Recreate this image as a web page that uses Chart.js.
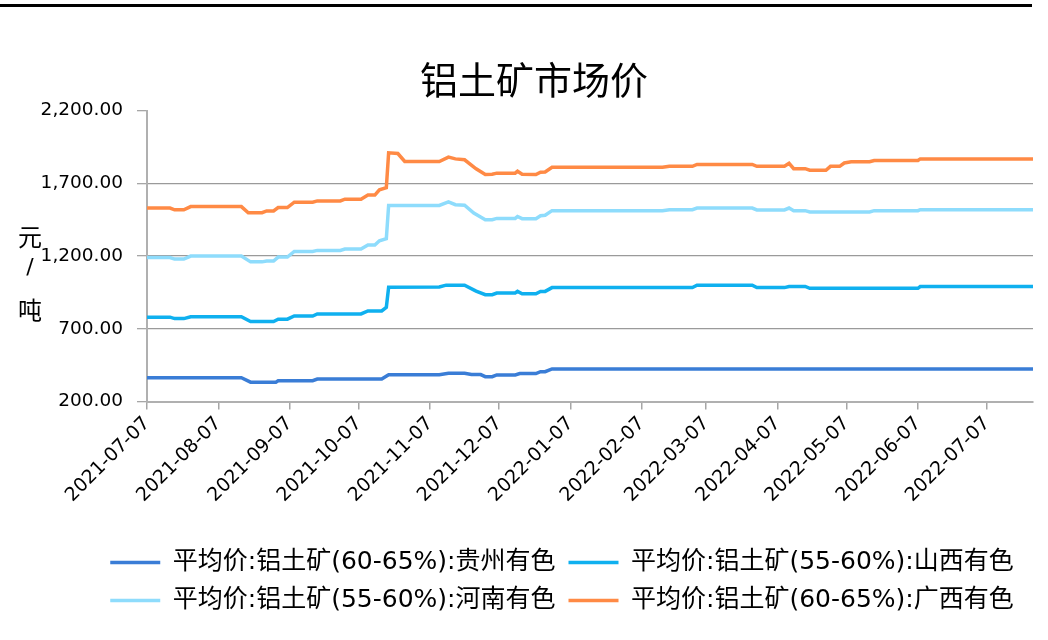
<!DOCTYPE html>
<html><head><meta charset="utf-8">
<script src="https://cdn.jsdelivr.net/npm/chart.js@4.4.1/dist/chart.umd.min.js"></script>
<style>html,body{margin:0;padding:0;background:#fff;}#wrap{width:1048px;height:640px;}</style>
</head><body><div id="wrap"><canvas id="c" width="1048" height="640"></canvas></div>
<script>
const chartTitle = '铝土矿市场价';
const yAxisTitle = ['元', '/', '吨'];
const startDate = '2021-07-07';
const endDate = '2022-07-27';
const tickDates = ['2021-07-07','2021-08-07','2021-09-07','2021-10-07','2021-11-07','2021-12-07','2022-01-07','2022-02-07','2022-03-07','2022-04-07','2022-05-07','2022-06-07','2022-07-07'];
const tickLabels = ['2021-07-07','2021-08-07','2021-09-07','2021-10-07','2021-11-07','2021-12-07','2022-01-07','2022-02-07','2022-03-07','2022-04-07','2022-05-07','2022-06-07','2022-07-07'];
const yMin = 200, yMax = 2200, yStep = 500;

const seriesNames = ['平均价:铝土矿(60-65%):贵州有色','平均价:铝土矿(55-60%):山西有色','平均价:铝土矿(55-60%):河南有色','平均价:铝土矿(60-65%):广西有色'];
const seriesColors = ['#3a7dd6','#0fb0ef','#8edcfc','#ff8a45'];

const gzDates = ['2021-07-07','2021-08-17','2021-08-21','2021-09-01','2021-09-02','2021-09-17','2021-09-19','2021-10-17','2021-10-20','2021-11-11','2021-11-15','2021-11-22','2021-11-25','2021-11-29','2021-12-01','2021-12-04','2021-12-06','2021-12-14','2021-12-16','2021-12-23','2021-12-25','2021-12-27','2021-12-30','2022-07-27'];
const gzValues = [363,363,333,333,343,343,354,354,384,384,394,394,385,385,371,371,383,383,392,392,405,405,424,424];

const sxDates = ['2021-07-07','2021-07-17','2021-07-19','2021-07-23','2021-07-26','2021-08-17','2021-08-21','2021-08-31','2021-09-02','2021-09-06','2021-09-09','2021-09-17','2021-09-19','2021-10-08','2021-10-11','2021-10-17','2021-10-19','2021-10-20','2021-11-11','2021-11-14','2021-11-22','2021-11-27','2021-12-01','2021-12-04','2021-12-06','2021-12-14','2021-12-15','2021-12-17','2021-12-23','2021-12-25','2021-12-27','2021-12-30','2022-03-01','2022-03-03','2022-03-27','2022-03-29','2022-04-10','2022-04-12','2022-04-19','2022-04-21','2022-06-07','2022-06-08','2022-07-27'];
const sxValues = [780,780,770,770,783,783,750,750,766,766,788,788,802,802,823,823,848,986,987,1000,1000,959,934,934,946,946,957,941,941,957,957,983,983,999,999,983,983,991,991,978,978,990,990];

const hnDates = ['2021-07-07','2021-07-17','2021-07-19','2021-07-23','2021-07-26','2021-08-17','2021-08-21','2021-08-26','2021-08-28','2021-08-31','2021-09-02','2021-09-06','2021-09-09','2021-09-17','2021-09-19','2021-09-29','2021-10-01','2021-10-08','2021-10-11','2021-10-14','2021-10-16','2021-10-19','2021-10-20','2021-11-11','2021-11-15','2021-11-18','2021-11-22','2021-11-26','2021-12-01','2021-12-04','2021-12-06','2021-12-14','2021-12-15','2021-12-17','2021-12-23','2021-12-25','2021-12-27','2021-12-30','2022-02-16','2022-02-19','2022-03-01','2022-03-03','2022-03-27','2022-03-29','2022-04-10','2022-04-12','2022-04-14','2022-04-19','2022-04-21','2022-05-17','2022-05-19','2022-06-07','2022-06-08','2022-07-27'];
const hnValues = [1190,1190,1179,1179,1200,1200,1160,1160,1166,1166,1193,1193,1232,1232,1239,1239,1248,1248,1276,1276,1305,1320,1548,1548,1572,1553,1550,1496,1450,1450,1459,1459,1472,1457,1457,1477,1480,1512,1512,1519,1519,1530,1530,1517,1517,1530,1512,1512,1503,1503,1512,1512,1519,1519];

const gxDates = ['2021-07-07','2021-07-17','2021-07-19','2021-07-23','2021-07-26','2021-08-17','2021-08-20','2021-08-26','2021-08-28','2021-08-31','2021-09-02','2021-09-06','2021-09-09','2021-09-17','2021-09-19','2021-09-29','2021-10-01','2021-10-08','2021-10-11','2021-10-14','2021-10-16','2021-10-19','2021-10-20','2021-10-24','2021-10-27','2021-11-11','2021-11-15','2021-11-18','2021-11-22','2021-11-27','2021-12-01','2021-12-04','2021-12-06','2021-12-14','2021-12-15','2021-12-17','2021-12-23','2021-12-25','2021-12-27','2021-12-30','2022-02-16','2022-02-19','2022-03-01','2022-03-03','2022-03-27','2022-03-29','2022-04-10','2022-04-12','2022-04-14','2022-04-19','2022-04-21','2022-04-28','2022-04-30','2022-05-04','2022-05-06','2022-05-09','2022-05-17','2022-05-19','2022-06-07','2022-06-08','2022-07-27'];
const gxValues = [1530,1530,1518,1518,1540,1540,1498,1498,1510,1510,1533,1533,1570,1570,1579,1579,1591,1591,1619,1619,1655,1670,1910,1905,1850,1850,1880,1868,1862,1800,1760,1762,1770,1770,1783,1762,1760,1776,1778,1810,1810,1817,1817,1830,1830,1817,1817,1838,1801,1801,1790,1790,1817,1817,1840,1848,1848,1857,1857,1868,1868];

const DAY = 86400000;
const dayOf = d => Math.round((Date.parse(d + 'T00:00:00Z') - Date.parse(startDate + 'T00:00:00Z')) / DAY);
const toPoints = (dates, values) => dates.map((d, i) => ({x: dayOf(d), y: values[i]}));

const seriesDates = [gzDates, sxDates, hnDates, gxDates];
const seriesValues = [gzValues, sxValues, hnValues, gxValues];

const latin = "'DejaVu Sans', 'Noto Sans CJK SC', sans-serif";

const topRule = {
  id: 'topRule',
  beforeDraw(chart) {
    const ctx = chart.ctx;
    ctx.save();
    ctx.fillStyle = '#000';
    ctx.fillRect(0, 4, 1032, 3);
    ctx.restore();
  }
};
const yTitle = {
  id: 'yTitle',
  afterDraw(chart) {
    const ctx = chart.ctx;
    const ys = [237, 268, 310];
    ctx.save();
    ctx.fillStyle = '#000';
    ctx.textAlign = 'center';
    ctx.textBaseline = 'middle';
    yAxisTitle.forEach((ch, i) => {
      ctx.font = (ch === '/' ? '22px ' + latin : "24px 'Noto Sans CJK SC'");
      ctx.fillText(ch, 30, ys[i]);
    });
    ctx.restore();
  }
};
const legendShift = {
  id: 'legendShift',
  afterLayout(chart) {
    chart.legend.left += 28;
    chart.legend.right += 28;
  }
};

new Chart(document.getElementById('c'), {
  type: 'line',
  data: {
    datasets: seriesNames.map((name, i) => ({
      label: name,
      data: toPoints(seriesDates[i], seriesValues[i]),
      borderColor: seriesColors[i],
      backgroundColor: seriesColors[i],
      borderWidth: 3.5,
      pointRadius: 0,
      tension: 0,
      fill: false
    }))
  },
  options: {
    responsive: false,
    animation: false,
    devicePixelRatio: 1,
    layout: {padding: {top: 57, left: 35, right: 15, bottom: 17}},
    plugins: {
      title: {
        display: true,
        text: chartTitle,
        color: '#000',
        font: {family: "'Noto Sans CJK SC'", size: 38, weight: 'normal'},
        padding: {top: 0, bottom: 8}
      },
      legend: {
        position: 'bottom',
        labels: {
          color: '#000',
          font: {family: latin, size: 25},
          usePointStyle: true,
          pointStyle: 'line',
          pointStyleWidth: 50,
          padding: 13
        }
      },
      tooltip: {enabled: false}
    },
    scales: {
      x: {
        type: 'linear',
        min: dayOf(startDate),
        max: dayOf(endDate),
        afterBuildTicks(scale) { scale.ticks = tickDates.map(d => ({value: dayOf(d)})); },
        afterFit(scale) { scale.height = 135.5; },
        ticks: {
          autoSkip: false,
          minRotation: 45,
          maxRotation: 45,
          padding: 3,
          color: '#000',
          font: {family: latin, size: 19},
          callback: (v, i) => tickLabels[i]
        },
        grid: {drawOnChartArea: false, drawTicks: true, tickLength: 8, color: '#a6a6a6', lineWidth: 1.5},
        border: {color: '#b0b0b0', width: 2}
      },
      y: {
        min: yMin,
        max: yMax,
        afterFit(scale) { scale.width = 112; },
        ticks: {
          stepSize: yStep,
          padding: 14,
          color: '#000',
          font: {family: latin, size: 18.5},
          callback: v => v.toLocaleString('en-US', {minimumFractionDigits: 2, maximumFractionDigits: 2})
        },
        grid: {
          color: c => (c.tick && c.tick.value === yMax ? 'rgba(0,0,0,0)' : '#9a9a9a'),
          lineWidth: 1.3,
          tickLength: 10,
          tickColor: '#a6a6a6'
        },
        border: {color: '#b0b0b0', width: 2}
      }
    }
  },
  plugins: [topRule, yTitle, legendShift]
});
</script></body></html>
